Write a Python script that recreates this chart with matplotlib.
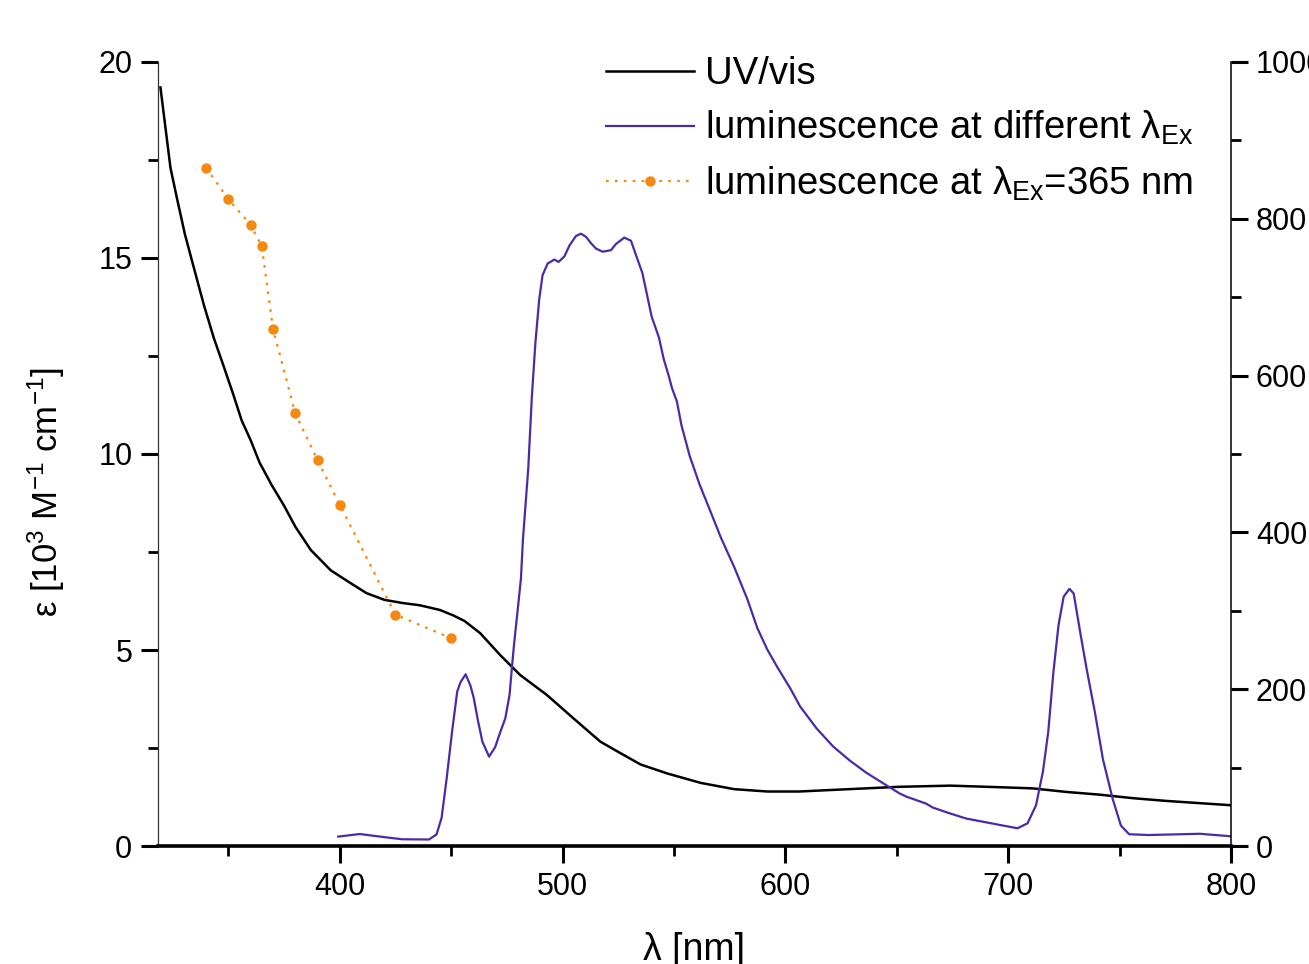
import matplotlib
matplotlib.use("Agg")
import matplotlib.pyplot as plt
from matplotlib.ticker import MultipleLocator

plt.rcParams['font.family'] = ['Liberation Sans', 'DejaVu Sans']
plt.rcParams['mathtext.fontset'] = 'custom'
plt.rcParams['mathtext.rm'] = 'Liberation Sans'
plt.rcParams['mathtext.it'] = 'Liberation Sans'
plt.rcParams['mathtext.default'] = 'regular'

# UV/vis absorption (epsilon, 10^3 M^-1 cm^-1)
uv_wl = [319.5, 324, 327, 330.5, 334.5, 339, 343.5, 347.5, 352, 356, 360, 364, 369.5, 375,
         380, 387, 396, 405, 412, 420, 428, 436, 445, 451, 456, 463, 472, 481, 493, 505,
         517, 525, 535, 547, 562, 577, 592, 606, 621, 636, 651, 674, 696, 711, 726, 741,
         756, 771, 800]
uv_eps = [19.35, 17.3, 16.5, 15.6, 14.75, 13.8, 12.95, 12.3, 11.55, 10.85, 10.35, 9.78, 9.2, 8.68,
          8.15, 7.55, 7.03, 6.7, 6.45, 6.28, 6.2, 6.14, 6.02, 5.88, 5.74, 5.43, 4.87, 4.36, 3.85, 3.25,
          2.66, 2.40, 2.08, 1.85, 1.61, 1.45, 1.39, 1.39, 1.43, 1.47, 1.51, 1.54, 1.50, 1.47, 1.38, 1.31,
          1.22, 1.15, 1.04]

# luminescence at different excitation wavelengths
lum_wl = [399.3, 409, 418, 428, 440, 443.4, 445.7, 448, 450.4, 452.7, 454.2, 456.5, 458.7, 460.1,
          462, 464, 467, 469.7, 472, 474.3, 476.2, 477.4, 478.2, 479.8, 481.3, 482.2, 484.6, 486.2,
          487.8, 489.5, 491, 493.3, 496.3, 498.2, 500.8, 503.1, 506, 508.2, 510.5, 512.7, 515, 518,
          521.7, 524, 527.7, 530.7, 532.9, 535.8, 540, 543.2, 545.4, 547.7, 549.1, 551.3, 553.4,
          557.1, 561.5, 565.9, 571.1, 577, 582.9, 587.4, 591.8, 596.2, 602.2, 606.6, 614, 621.4,
          628.9, 636.3, 646.7, 651.3, 654.3, 663.2, 666.2, 673.4, 681.2, 696, 704.2, 708.7, 712.5,
          715.6, 718, 720.3, 722.6, 724.9, 727.5, 729.4, 732.3, 735.2, 738.9, 742.5, 746.9, 750.6,
          754.3, 763, 786, 800]
lum_int = [12, 15.3, 12, 8.6, 8.3, 14.7, 36, 87, 146, 197, 209, 219, 204, 189,
           160, 133, 114, 126, 145, 163, 193, 232, 257, 300, 341, 391, 482, 573,
           642, 697, 728, 743, 748, 745, 752, 766, 778, 781, 777, 769, 762, 758,
           760, 768, 776, 772, 754, 731, 675, 649, 621, 599, 584, 567, 536,
           497, 461, 430, 393, 356, 315, 278, 251, 229, 201, 178, 150, 127,
           109, 93.5, 75, 67, 63, 54, 49, 42, 35, 27, 22.6, 29, 52,
           95, 146, 222, 282, 318, 328, 322, 273, 226, 171, 111, 60, 26,
           15, 14, 15.6, 12.4]

# luminescence at lambda_Ex = 365 nm
p365_wl = [340, 350, 360, 365, 370, 380, 390, 400, 425, 450]
p365_int = [865, 825, 792, 765, 660, 552, 492, 435, 295, 265]

fig = plt.figure(figsize=(13.09, 9.64), dpi=100)
ax = fig.add_axes([0.1207, 0.1224, 0.8197, 0.8133])
ax2 = ax.twinx()

l1, = ax.plot(uv_wl, uv_eps, color='black', lw=1.8, zorder=3)
l2, = ax2.plot(lum_wl, lum_int, color='#4b2aa6', lw=1.6, zorder=2)
l3, = ax2.plot(p365_wl, p365_int, color='#f5890f', lw=1.6, ls=(0, (1.2, 2.8)),
               marker='o', markersize=7.5, markeredgewidth=0, zorder=4)

ax.set_xlim(318.4, 800)
ax.set_ylim(0, 20)
ax2.set_ylim(0, 1000)

ax.xaxis.set_major_locator(MultipleLocator(100))
ax.xaxis.set_minor_locator(MultipleLocator(50))
ax.yaxis.set_major_locator(MultipleLocator(5))
ax.yaxis.set_minor_locator(MultipleLocator(2.5))
ax2.yaxis.set_major_locator(MultipleLocator(200))
ax2.yaxis.set_minor_locator(MultipleLocator(100))

for a in (ax, ax2):
    a.spines['top'].set_visible(False)
    a.patch.set_visible(False)
ax.spines['left'].set_linewidth(0.9)
ax.spines['left'].set_color('#333333')
ax.spines['right'].set_visible(False)
ax.spines['bottom'].set_linewidth(2.6)
ax2.spines['right'].set_linewidth(1.1)
ax2.spines['left'].set_visible(False)
ax2.spines['bottom'].set_visible(False)

ax.tick_params(axis='both', which='major', direction='out', length=12.5, width=2.2,
               labelsize=22, pad=6)
ax.tick_params(axis='both', which='minor', direction='out', length=7.5, width=2.0)
ax2.tick_params(axis='y', which='major', direction='out', length=12, width=2.2,
                labelsize=22, pad=6)
ax2.tick_params(axis='y', which='minor', direction='out', length=7.5, width=2.0)

ax.set_xlabel('λ [nm]', fontsize=27, labelpad=22)
ax.set_ylabel('ε [10$^{3}$ M$^{-1}$ cm$^{-1}$]', fontsize=25)
ax.yaxis.set_label_coords(-0.085, 0.452)

leg = ax2.legend([l1, l2, l3],
                 ['UV/vis', 'luminescence at different λ$_{\\mathrm{Ex}}$',
                  'luminescence at λ$_{\\mathrm{Ex}}$=365 nm'],
                 loc='upper left', bbox_to_anchor=(606 / 1309, 1 - 56 / 964),
                 bbox_transform=fig.transFigure, frameon=False, fontsize=27.5,
                 handlelength=2.3, handletextpad=0.3, labelspacing=0.45,
                 borderpad=0, borderaxespad=0)

fig.savefig('out.png', dpi=100)
